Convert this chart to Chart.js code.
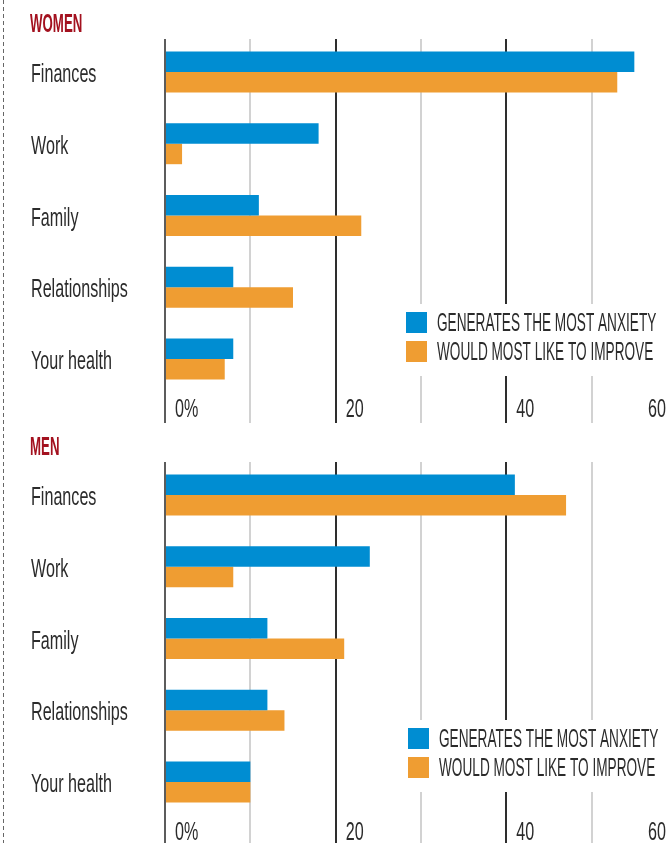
<!DOCTYPE html>
<html>
<head>
<meta charset="utf-8">
<title>What worries women and men most</title>
<script src="https://cdn.jsdelivr.net/npm/chart.js@4.4.1/dist/chart.umd.min.js"></script>
<style>
  html, body { margin: 0; padding: 0; background: #fff; overflow: hidden; width: 670px; height: 843px; }
  .dash { position: absolute; left: 3px; top: 0; width: 1px; height: 843px;
          background: repeating-linear-gradient(to bottom, #666 0 4px, transparent 4px 7px); }
  canvas { position: absolute; left: 0; }
  #women { top: 0; }
  #men { top: 423px; }
</style>
</head>
<body>
<div class="dash"></div>
<canvas id="women" width="690" height="423"></canvas>
<canvas id="men" width="690" height="420"></canvas>
<script>
'use strict';

// % of respondents
let categories = ['Finances', 'Work', 'Family', 'Relationships', 'Your health'];
let seriesNames = ['GENERATES THE MOST ANXIETY', 'WOULD MOST LIKE TO IMPROVE'];
let womenAnxiety = [55, 18, 11, 8, 8];
let womenImprove = [53, 2, 23, 15, 7];
let menAnxiety = [41, 24, 12, 12, 10];
let menImprove = [47, 8, 21, 14, 10];
let tickValues = [0, 20, 40, 60];
let tickLabels = ['0%', '20', '40', '60'];

let blue = '#008dd2';
let orange = '#ef9d32';
let textColor = '#2b2b2b';
let titleRed = '#a3111f';

// the print font is very narrow, so squeeze a normal one sideways
function squeezedText(ctx, text, x, y, font, sx, color) {
  ctx.save();
  ctx.font = font;
  ctx.fillStyle = color;
  ctx.textBaseline = 'alphabetic';
  ctx.textAlign = 'left';
  ctx.translate(x, y);
  ctx.scale(sx, 1);
  ctx.fillText(text, 0, 0);
  ctx.restore();
}

function squeezedWidth(ctx, text, font, sx) {
  ctx.save();
  ctx.font = font;
  let w = ctx.measureText(text).width * sx;
  ctx.restore();
  return w;
}

let labelFont = '26px "Liberation Sans", Arial, sans-serif';
let titleFont = 'bold 26px "Liberation Sans", Arial, sans-serif';
let legendFont = '25px "Liberation Sans", Arial, sans-serif';

let panelText = {
  id: 'panelText',
  beforeDatasetsDraw(chart) {
    // grid lines start a few px under the top of the plot
    let a = chart.chartArea;
    let ctx = chart.ctx;
    ctx.save();
    ctx.fillStyle = '#fff';
    ctx.fillRect(a.left - 3, a.top - 1, a.width + 6, 4);
    ctx.restore();
  },
  afterDraw(chart, args, opts) {
    let ctx = chart.ctx;
    let xs = chart.scales.x;
    let ys = chart.scales.y;
    let a = chart.chartArea;

    squeezedText(ctx, opts.title, 30, 32, titleFont, 0.51, titleRed);

    chart.data.labels.forEach((lab, i) => {
      squeezedText(ctx, lab, 31, ys.getPixelForValue(i) + 10, labelFont, 0.62, textColor);
    });

    tickValues.forEach((v, i) => {
      let w = squeezedWidth(ctx, tickLabels[i], labelFont, 0.62);
      let px = Math.min(xs.getPixelForValue(v) + 10, 666 - w);
      squeezedText(ctx, tickLabels[i], px, a.bottom + 22, labelFont, 0.62, textColor);
    });

    // legend sits on a white patch over the grid
    let lx = opts.legendX;
    let ly = opts.legendY;
    ctx.save();
    ctx.fillStyle = '#fff';
    ctx.fillRect(lx - 8, ly - 8, 690 - lx, 72);
    chart.data.datasets.forEach((ds, i) => {
      ctx.fillStyle = ds.backgroundColor;
      ctx.fillRect(lx, ly + i * 29, 21, 21);
      squeezedText(ctx, ds.label, lx + 31, ly + 19 + i * 29, legendFont, 0.545, textColor);
    });
    ctx.restore();
  }
};

function gridColor(c) {
  let v = c.tick.value;
  if (v === 0) return '#5c5c5c';
  if (v % 20 === 0) return '#2e2e2e';
  return '#d2d2d2';
}

function makeChart(id, title, anxiety, improve, legendX, legendY, axisHeight) {
  return new Chart(document.getElementById(id), {
    type: 'bar',
    data: {
      labels: categories,
      datasets: [
        { label: seriesNames[0], data: anxiety, backgroundColor: blue },
        { label: seriesNames[1], data: improve, backgroundColor: orange }
      ]
    },
    options: {
      indexAxis: 'y',
      responsive: false,
      animation: false,
      events: [],
      layout: { padding: { left: 165, right: 13, top: 36, bottom: 0 } },
      datasets: { bar: { categoryPercentage: 0.571, barPercentage: 1, borderWidth: 0 } },
      scales: {
        x: {
          min: 0,
          max: 60,
          ticks: { stepSize: 10, display: false },
          grid: { color: gridColor, lineWidth: 2, drawTicks: true, tickLength: axisHeight },
          border: { display: false },
          afterFit: s => { s.height = axisHeight; }
        },
        y: { display: false }
      },
      plugins: {
        legend: { display: false },
        tooltip: { enabled: false },
        panelText: { title: title, legendX: legendX, legendY: legendY }
      }
    },
    plugins: [panelText]
  });
}

makeChart('women', 'WOMEN', womenAnxiety, womenImprove, 406, 312, 28);
makeChart('men', 'MEN', menAnxiety, menImprove, 408, 305, 25);
</script>
</body>
</html>
